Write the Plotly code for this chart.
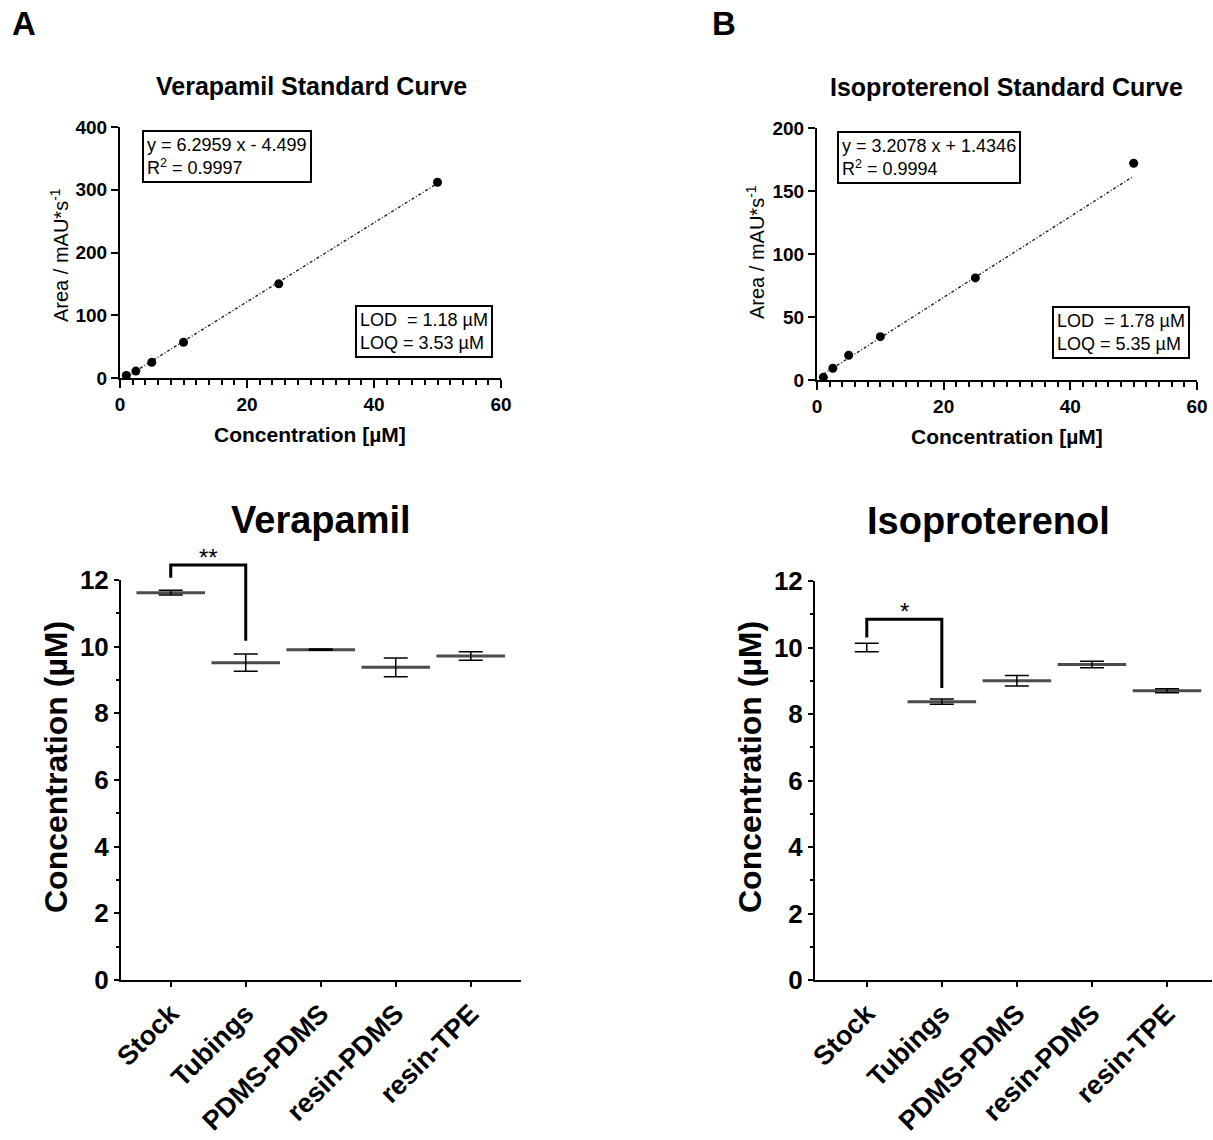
import plotly.graph_objects as go

W, H = 1213, 1140
FONT = "Liberation Sans, Arial, sans-serif"

# ---------------- data ----------------
conc = [1, 2.5, 5, 10, 25, 50]
ver_area = [4, 11, 25, 57, 150, 312]
iso_area = [2.1, 9.3, 19.6, 34.4, 81, 172]
ver_slope, ver_icpt = 6.2959, -4.499
iso_slope, iso_icpt = 3.2078, 1.4346

groups = ["Stock", "Tubings", "PDMS-PDMS", "resin-PDMS", "resin-TPE"]
ver_mean = [11.62, 9.52, 9.91, 9.38, 9.72]
ver_sd = [0.07, 0.26, 0.02, 0.28, 0.13]
iso_mean = [10.0, 8.37, 9.0, 9.49, 8.70]
iso_sd = [0.125, 0.08, 0.16, 0.10, 0.06]
iso_show_mean = [False, True, True, True, True]

# significance brackets: (group a, group b, top, left bottom, right bottom, label, label y)
ver_sig = (0, 1, 12.45, 12.07, 10.18, "**", 12.68)
iso_sig = (0, 1, 10.85, 10.30, 8.78, "*", 11.08)

# ---------------- layout geometry (pixels) ----------------
def px(x):
    return x / W

def py(y):
    return 1 - y / H

dom = {
    "tl": ([px(120), px(501)], [py(378), py(127)]),
    "tr": ([px(817), px(1197)], [py(380), py(128)]),
    "bl": ([px(121), px(521)], [py(980), py(580)]),
    "br": ([px(815), px(1212)], [py(980), py(581)]),
}
xr_bl = [-0.663, 4.67]
xr_br = [-0.69, 4.60]
yr_b = [0, 12]

fig = go.Figure()

# ---------- top standard curves ----------
for conc_vals, area, slope, icpt, xa, ya in [
    (conc, ver_area, ver_slope, ver_icpt, "x", "y"),
    (conc, iso_area, iso_slope, iso_icpt, "x2", "y2"),
]:
    fx = [conc_vals[0], conc_vals[-1]]
    fy = [slope * v + icpt for v in fx]
    fig.add_trace(go.Scatter(x=fx, y=fy, mode="lines", xaxis=xa, yaxis=ya,
                             line=dict(color="#222222", width=1.4, dash="3px,2px,1px,2px"),
                             showlegend=False, hoverinfo="skip"))
    fig.add_trace(go.Scatter(x=conc_vals, y=area, mode="markers", xaxis=xa, yaxis=ya,
                             marker=dict(color="black", size=9), cliponaxis=False,
                             showlegend=False))

# ---------- bottom mean +/- SD ----------
for means, sds, sizes, xa, ya in [
    (ver_mean, ver_sd, [49] * 5, "x3", "y3"),
    (iso_mean, iso_sd, [49 if s else 0 for s in iso_show_mean], "x4", "y4"),
]:
    fig.add_trace(go.Scatter(
        x=groups, y=means, mode="markers", xaxis=xa, yaxis=ya,
        marker=dict(symbol="line-ew", size=sizes, color="black",
                    line=dict(color="black", width=3)),
        error_y=dict(type="data", array=sds, visible=True, width=12,
                     thickness=1.5, color="black"),
        cliponaxis=False, showlegend=False))

axis_common = dict(showline=True, linecolor="black", linewidth=2, ticks="outside",
                   tickcolor="black", tickwidth=2, showgrid=False, zeroline=False,
                   mirror=False, automargin=False)

tick_top = dict(family=FONT, size=19, color="black", weight="bold")
tick_boty = dict(family=FONT, size=26, color="black", weight="bold")
tick_botx = dict(family=FONT, size=27, color="black", weight="bold")

fig.update_layout(
    template="none",
    width=W, height=H, margin=dict(l=0, r=0, t=0, b=0, pad=0, autoexpand=False),
    autosize=False,
    paper_bgcolor="white", plot_bgcolor="white", showlegend=False,
    xaxis=dict(domain=dom["tl"][0], anchor="y", range=[0, 60], tickvals=[0, 20, 40, 60],
               ticklen=8, tickfont=tick_top,
               minor=dict(dtick=2, ticks="outside", ticklen=5, tickwidth=2, tickcolor="black"),
               **axis_common),
    yaxis=dict(domain=dom["tl"][1], anchor="x", range=[0, 400], tickvals=[0, 100, 200, 300, 400],
               ticklen=7, tickfont=tick_top, **axis_common),
    xaxis2=dict(domain=dom["tr"][0], anchor="y2", range=[0, 60], tickvals=[0, 20, 40, 60],
                ticklen=8, tickfont=tick_top,
                minor=dict(dtick=2, ticks="outside", ticklen=5, tickwidth=2, tickcolor="black"),
                **axis_common),
    yaxis2=dict(domain=dom["tr"][1], anchor="x2", range=[0, 200], tickvals=[0, 50, 100, 150, 200],
                ticklen=7, tickfont=tick_top, **axis_common),
    xaxis3=dict(domain=dom["bl"][0], anchor="y3", type="category", range=xr_bl,
                tickangle=-45, ticklen=5, tickfont=tick_botx, **axis_common),
    yaxis3=dict(domain=dom["bl"][1], anchor="x3", range=yr_b, tickvals=[0, 2, 4, 6, 8, 10, 12],
                ticklen=5, tickfont=tick_boty,
                minor=dict(dtick=1, ticks="outside", ticklen=3, tickwidth=2, tickcolor="black"),
                **axis_common),
    xaxis4=dict(domain=dom["br"][0], anchor="y4", type="category", range=xr_br,
                tickangle=-45, ticklen=5, tickfont=tick_botx, **axis_common),
    yaxis4=dict(domain=dom["br"][1], anchor="x4", range=yr_b, tickvals=[0, 2, 4, 6, 8, 10, 12],
                ticklen=5, tickfont=tick_boty,
                minor=dict(dtick=1, ticks="outside", ticklen=3, tickwidth=2, tickcolor="black"),
                **axis_common),
)

ann = []

def text_ann(x, y, text, size, bold=False, angle=0, xanchor="center", yanchor="middle", align="center", **kw):
    ann.append(dict(x=x, y=y, xref="paper", yref="paper", text=text, showarrow=False,
                    textangle=angle, xanchor=xanchor, yanchor=yanchor, align=align,
                    font=dict(family=FONT, size=size, color="black",
                              weight="bold" if bold else "normal"), **kw))

# panel letters
text_ann(px(24), py(24), "A", 33, bold=True)
text_ann(px(724), py(24), "B", 33, bold=True)

# top titles
text_ann(px(311), py(86), "Verapamil Standard Curve", 25, bold=True)
text_ann(px(1006), py(87), "Isoproterenol Standard Curve", 25, bold=True)

# top axis titles
text_ann(px(310), py(435), "Concentration [µM]", 21, bold=True)
text_ann(px(1007), py(436), "Concentration [µM]", 21, bold=True)
text_ann(px(59), py(255), "Area / mAU*s<sup>-1</sup>", 20, angle=-90)
text_ann(px(755), py(252), "Area / mAU*s<sup>-1</sup>", 20, angle=-90)

# equation / LOD boxes
box = dict(bordercolor="black", borderwidth=2, borderpad=3, bgcolor="white")
text_ann(px(142), py(130), "y = 6.2959 x - 4.499<br>R<sup>2</sup> = 0.9997", 18,
         xanchor="left", yanchor="top", align="left", **box)
text_ann(px(355), py(305), "LOD\u00a0\u00a0= 1.18 µM<br>LOQ = 3.53 µM", 18,
         xanchor="left", yanchor="top", align="left", **box)
text_ann(px(837), py(131), "y = 3.2078 x + 1.4346<br>R<sup>2</sup> = 0.9994", 18,
         xanchor="left", yanchor="top", align="left", **box)
text_ann(px(1052), py(306), "LOD\u00a0\u00a0= 1.78 µM<br>LOQ = 5.35 µM", 18,
         xanchor="left", yanchor="top", align="left", **box)

# bottom titles
text_ann(px(321), py(520), "Verapamil", 38, bold=True)
text_ann(px(988), py(521), "Isoproterenol", 38, bold=True)

# bottom y titles
text_ann(px(56), py(767), "Concentration (µM)", 32, bold=True, angle=-90)
text_ann(px(750), py(767), "Concentration (µM)", 32, bold=True, angle=-90)

# significance brackets (converted through each subplot's domain and range)
def to_paper(v, d, r):
    return d[0] + (v - r[0]) / (r[1] - r[0]) * (d[1] - d[0])

shapes = []
for sig, key, xr in [(ver_sig, "bl", xr_bl), (iso_sig, "br", xr_br)]:
    a, b, top, lb, rb, lab, laby = sig
    xd, yd = dom[key]
    xa_ = to_paper(a, xd, xr)
    xb_ = to_paper(b, xd, xr)
    yt = to_paper(top, yd, yr_b)
    yl = to_paper(lb, yd, yr_b)
    yrr = to_paper(rb, yd, yr_b)
    shapes.append(dict(type="path", xref="paper", yref="paper",
                       path=f"M {xa_},{yl} L {xa_},{yt} L {xb_},{yt} L {xb_},{yrr}",
                       line=dict(color="black", width=3)))
    text_ann((xa_ + xb_) / 2, to_paper(laby, yd, yr_b), lab, 24)

fig.update_layout(annotations=ann, shapes=shapes)
fig.write_html("out.html",
               config={"displayModeBar": False},
               post_script="document.body.style.margin='0px';document.body.style.padding='0px';")
